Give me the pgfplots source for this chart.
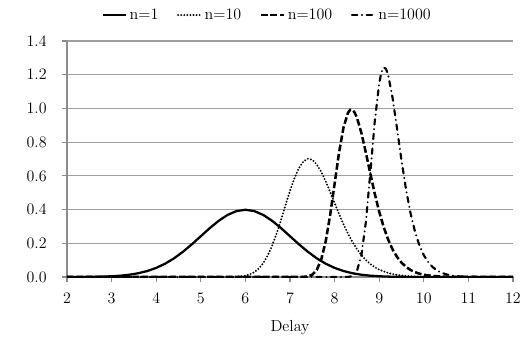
\documentclass[border=0pt]{standalone}
\usepackage{pgfplots}
\pgfplotsset{compat=1.18}
\begin{document}
\begin{tikzpicture}
\path[use as bounding box] (-50.25pt,-46.5pt) rectangle (342pt,207.75pt);
\begin{axis}[
 scale only axis, width=334.5pt, height=177pt,
 xmin=2, xmax=12, ymin=0, ymax=1.4,
 xtick={2,3,4,5,6,7,8,9,10,11,12},
 ytick={0,0.2,0.4,0.6,0.8,1.0,1.2,1.4},
 axis x line*=bottom, axis y line*=left,
 axis line style={-, black!45, line width=0.8pt},
 ymajorgrids, grid style={black!38, line width=0.8pt},
 tick align=outside, major tick length=3.75pt,
 tick style={black!45, line width=0.8pt},
 every tick label/.append style={font=\fontsize{12}{14}\selectfont},
 yticklabel style={xshift=-8pt, /pgf/number format/fixed, /pgf/number format/fixed zerofill, /pgf/number format/precision=1},
 xticklabel style={yshift=-5pt},
 xlabel={Delay},
 xlabel style={font=\fontsize{12}{14}\selectfont, at={(axis description cs:0.5,-0.215)}, anchor=center},
 legend columns=4,
 legend style={draw=none, at={(0.45,1.11)}, anchor=center, font=\fontsize{12}{14}\selectfont,
   /tikz/every even column/.append style={column sep=12pt}},
 legend cell align=left,
]
\addplot[black, line width=1.7pt] coordinates {
(2.0,0.0001)(2.2,0.0003)(2.4,0.0006)(2.6,0.0012)(2.8,0.0024)(3.0,0.0044)(3.2,0.0079)(3.4,0.0136)(3.6,0.0224)(3.8,0.0355)
(4.0,0.0540)(4.2,0.0790)(4.4,0.1109)(4.6,0.1497)(4.8,0.1942)(5.0,0.2420)(5.2,0.2897)(5.4,0.3332)(5.6,0.3683)(5.8,0.3910)
(6.0,0.3989)(6.2,0.3910)(6.4,0.3683)(6.6,0.3332)(6.8,0.2897)(7.0,0.2420)(7.2,0.1942)(7.4,0.1497)(7.6,0.1109)(7.8,0.0790)
(8.0,0.0540)(8.2,0.0355)(8.4,0.0224)(8.6,0.0136)(8.8,0.0079)(9.0,0.0044)(9.2,0.0024)(9.4,0.0012)(9.6,0.0006)(9.8,0.0003)
(10.0,0.0001)(10.4,0.0000)(11.0,0)(12.0,0)};
\addlegendentry{n=1}
\addplot[black, line width=1.6pt, line cap=round, dash pattern=on 0pt off 2.3pt] coordinates {
(2.0,0)(5.0,0)(5.5,0.0001)(5.7,0.0007)(5.8,0.0016)(5.9,0.0037)(6.0,0.0078)(6.1,0.0155)(6.2,0.0287)(6.3,0.0501)
(6.4,0.0822)(6.5,0.1272)(6.6,0.1861)(6.7,0.2581)(6.8,0.3400)(6.9,0.4265)(7.0,0.5111)(7.1,0.5865)(7.2,0.6463)(7.3,0.6855)
(7.4,0.7017)(7.5,0.6951)(7.6,0.6679)(7.7,0.6240)(7.8,0.5680)(7.9,0.5048)(8.0,0.4389)(8.1,0.3740)(8.2,0.3127)(8.3,0.2571)
(8.4,0.2079)(8.5,0.1657)(8.6,0.1302)(8.7,0.1010)(8.8,0.0774)(8.9,0.0585)(9.0,0.0438)(9.2,0.0237)(9.4,0.0123)(9.6,0.0061)
(9.8,0.0029)(10.0,0.0013)(10.5,0.0002)(11.0,0)(12.0,0)};
\addlegendentry{n=10}
\addplot[black, line width=1.9pt, dash pattern=on 5pt off 2pt] coordinates {
(2.0,0)(7.0,0)(7.2,0.0001)(7.3,0.0007)(7.4,0.0036)(7.5,0.0138)(7.6,0.0419)(7.7,0.1031)(7.8,0.2110)(7.9,0.3666)
(8.0,0.5531)(8.1,0.7387)(8.2,0.8872)(8.3,0.9746)(8.35,0.9916)(8.4,0.9913)(8.45,0.9756)(8.5,0.9461)(8.6,0.8552)(8.7,0.7386)
(8.8,0.6145)(8.9,0.4944)(9.0,0.3876)(9.1,0.2971)(9.2,0.2223)(9.3,0.1640)(9.4,0.1190)(9.5,0.0853)(9.6,0.0603)(9.7,0.0421)
(9.8,0.0290)(9.9,0.0198)(10.0,0.0134)(10.2,0.0059)(10.4,0.0025)(10.6,0.0010)(10.8,0.0004)(11.0,0.0002)(11.5,0)(12.0,0)};
\addlegendentry{n=100}
\addplot[black, line width=1.6pt, line cap=round, dash pattern=on 4pt off 3.5pt on 0pt off 3.5pt] coordinates {
(2.0,0)(8.2,0)(8.3,0.0006)(8.4,0.0060)(8.5,0.0348)(8.6,0.1278)(8.7,0.3244)(8.8,0.6146)(8.9,0.9213)(9.0,1.1496)
(9.05,1.2144)(9.1,1.2420)(9.15,1.2357)(9.2,1.2000)(9.3,1.0628)(9.4,0.8800)(9.5,0.6917)(9.6,0.5220)(9.7,0.3814)(9.8,0.2716)
(9.9,0.1893)(10.0,0.1297)(10.1,0.0874)(10.2,0.0582)(10.3,0.0382)(10.4,0.0248)(10.5,0.0159)(10.6,0.0101)(10.7,0.0064)(10.8,0.0040)
(11.0,0.0015)(11.5,0.0001)(12.0,0)};
\addlegendentry{n=1000}
\end{axis}
\end{tikzpicture}
\end{document}
